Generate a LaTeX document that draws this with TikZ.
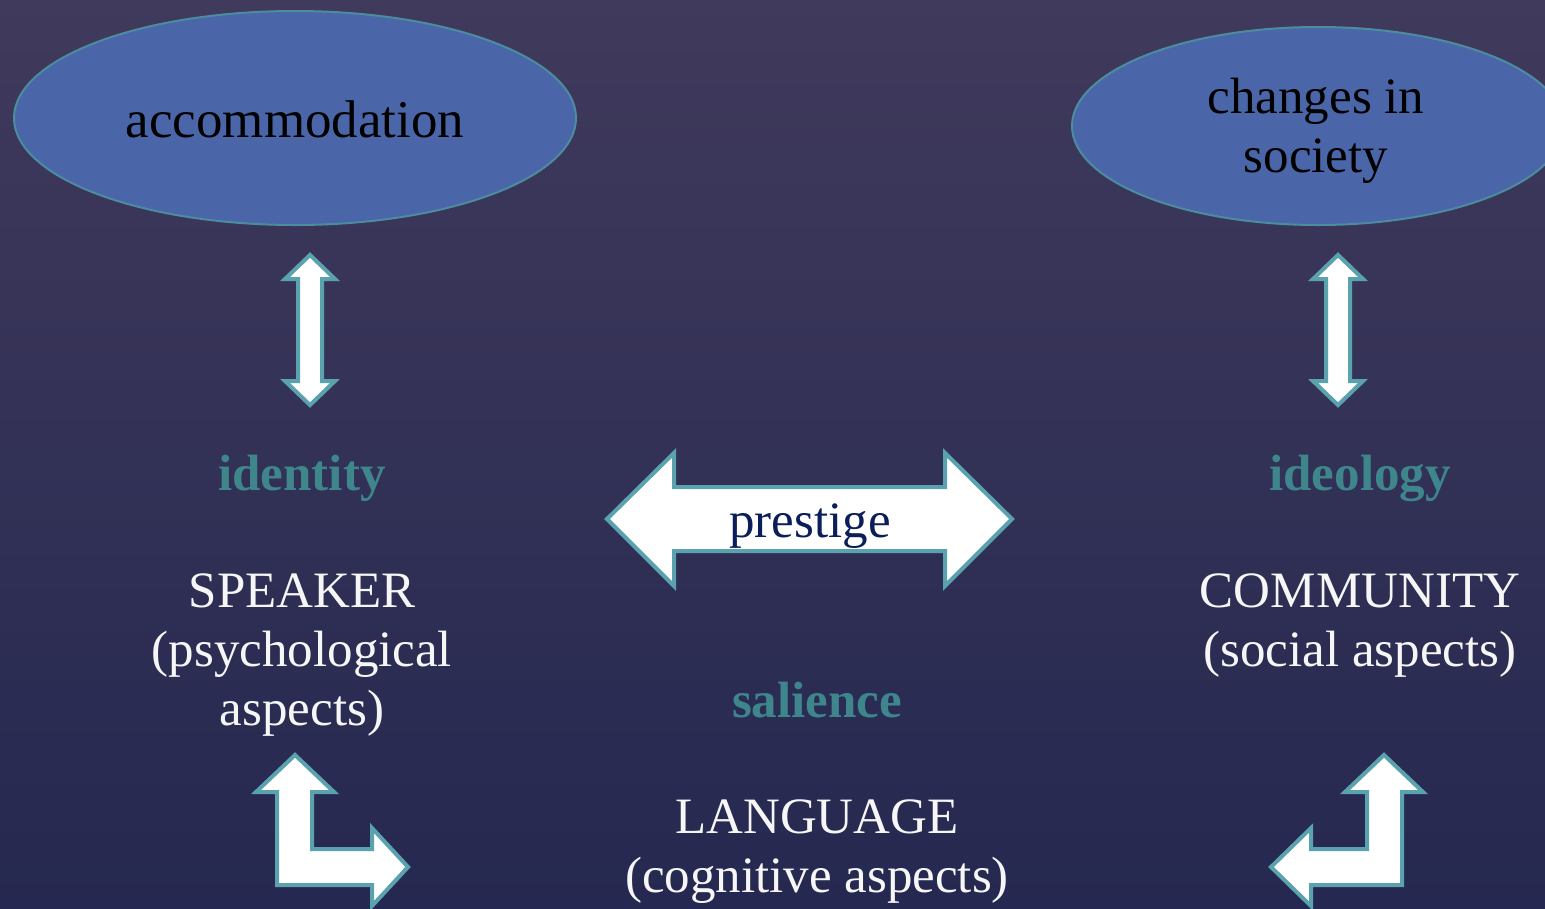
\documentclass[tikz,border=0pt]{standalone}
\usepackage{fontspec}
\setmainfont{Liberation Serif}
\usetikzlibrary{shapes.geometric}
\definecolor{bgtop}{RGB}{64,58,92}
\definecolor{bgbot}{RGB}{37,40,80}
\definecolor{ellfill}{RGB}{74,102,169}
\definecolor{ellline}{RGB}{76,140,160}
\definecolor{arrline}{RGB}{90,163,174}
\definecolor{tealtext}{RGB}{62,134,140}
\definecolor{navytext}{RGB}{12,30,90}
\definecolor{whitetext}{RGB}{246,246,246}
\begin{document}
\begin{tikzpicture}[x=1pt,y=-1pt,
  bubble/.style={ellipse,draw=ellline,line width=2pt,fill=ellfill,inner sep=0pt},
  arrowshape/.style={draw=arrline,fill=white,line width=4pt,line join=miter},
  bigtext/.style={font=\fontsize{51}{59}\selectfont,inner sep=0pt,anchor=base},
  keyword/.style={bigtext,text=tealtext,font=\fontsize{51}{59}\selectfont\bfseries},
  plain/.style={bigtext,text=whitetext}]
\useasboundingbox (0,0) rectangle (1545,908);
\shade[top color=bgtop,bottom color=bgbot] (0,0) rectangle (1545,908);

% ellipses
\node[bubble,minimum width=562pt,minimum height=214pt] (acc) at (295,118) {};
\node[bubble,minimum width=492pt,minimum height=198pt] (soc) at (1318,126) {};
\node[bigtext,text=black,font=\fontsize{53}{59}\selectfont] (acct) at (295,137) {accommodation};
\node[bigtext,text=black] (soct) at (1316,113) {\begin{tabular}[t]{@{}c@{}}changes in\\society\end{tabular}};

% vertical double arrows
\foreach \c in {310,1338}{
  \draw[arrowshape] (\c,255) -- (\c+25,279) -- (\c+12,279) -- (\c+12,381) -- (\c+25,381)
    -- (\c,405) -- (\c-25,381) -- (\c-12,381) -- (\c-12,279) -- (\c-25,279) -- cycle;
}

% prestige arrow
\draw[arrowshape] (607,519) -- (674,453) -- (674,487) -- (945,487) -- (945,453) -- (1012,519)
  -- (945,586) -- (945,551) -- (674,551) -- (674,586) -- cycle;
\node[bigtext,text=navytext] (pres) at (810,537) {prestige};

% bent arrows
\draw[arrowshape] (295,755) -- (334,792) -- (312,792) -- (312,849) -- (372,849) -- (372,828)
  -- (408,867) -- (372,906) -- (372,885) -- (277,885) -- (277,792) -- (256,792) -- cycle;
\draw[arrowshape] (1384,755) -- (1423,792) -- (1402,792) -- (1402,885) -- (1311,885) -- (1311,906)
  -- (1271,867) -- (1311,828) -- (1311,849) -- (1367,849) -- (1367,792) -- (1345,792) -- cycle;

% labels
\node[keyword] (ident) at (302,490) {identity};
\node[keyword] (ideo) at (1360,490) {ideology};
\node[keyword] (sal) at (817,717) {salience};
\node[plain] (spk) at (302,607) {\begin{tabular}[t]{@{}c@{}}SPEAKER\\(psychological\\aspects)\end{tabular}};
\node[plain] (com) at (1360,607) {\begin{tabular}[t]{@{}c@{}}COMMUNITY\\(social aspects)\end{tabular}};
\node[plain] (lang) at (817,833) {\begin{tabular}[t]{@{}c@{}}LANGUAGE\\(cognitive aspects)\end{tabular}};
\end{tikzpicture}
\end{document}
